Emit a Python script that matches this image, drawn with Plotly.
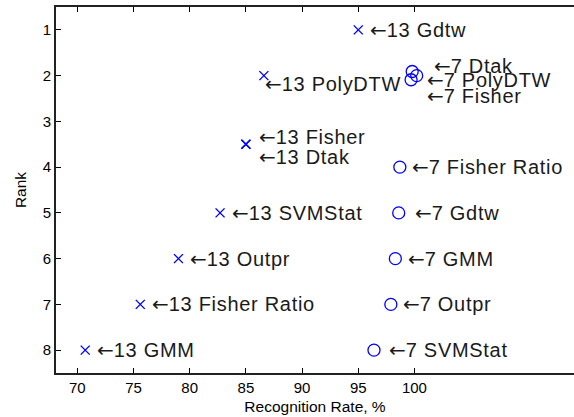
import plotly.graph_objects as go

# Recognition rate (%) and rank for the 13-feature-set methods
m13_names = ["Gdtw", "PolyDTW", "Fisher", "Dtak", "SVMStat", "Outpr", "Fisher Ratio", "GMM"]
m13_rate = [95.0, 86.6, 85.0, 85.0, 82.7, 79.0, 75.6, 70.7]
m13_rank = [1, 2, 3.5, 3.5, 5, 6, 7, 8]

# Recognition rate (%) and rank for the 7-feature-set methods
m7_names = ["Dtak", "PolyDTW", "Fisher", "Fisher Ratio", "Gdtw", "GMM", "Outpr", "SVMStat"]
m7_rate = [99.8, 100.2, 99.7, 98.7, 98.6, 98.3, 97.9, 96.4]
m7_rank = [1.91, 2.0, 2.09, 4, 5, 6, 7, 8]

x_ticks = [70, 75, 80, 85, 90, 95, 100]
y_ticks = [1, 2, 3, 4, 5, 6, 7, 8]

FONT = "Liberation Sans, Arial, Helvetica, sans-serif"
ARROW = '<span style="font-family:DejaVu Sans">←</span>'
BLUE = "#0000ff"

fig = go.Figure()
fig.add_trace(go.Scatter(
    x=m13_rate, y=m13_rank, mode="markers",
    marker=dict(symbol="x-thin-open", size=9, color=BLUE, line=dict(color=BLUE, width=1.4)),
    showlegend=False,
))
fig.add_trace(go.Scatter(
    x=m7_rate, y=m7_rank, mode="markers",
    marker=dict(symbol="circle-open", size=12, color=BLUE, line=dict(color=BLUE, width=1.3)),
    showlegend=False,
))

# pixel offsets of the arrow labels from their markers (crowded ones are nudged)
shift13 = {"PolyDTW": (0, -8), "Fisher": (12, 7), "Dtak": (12, -13)}
shift7 = {"Dtak": (21, 6), "PolyDTW": (9, -4), "Fisher": (15, -16),
          "Gdtw": (15, 0), "SVMStat": (14, 0), "GMM": (12, 0)}

annotations = []
for prefix, names, rates, ranks, shifts in (
    ("13", m13_names, m13_rate, m13_rank, shift13),
    ("7", m7_names, m7_rate, m7_rank, shift7),
):
    for n, xr, yr in zip(names, rates, ranks):
        dx, dy = shifts.get(n, (11, 0))
        label = f'{ARROW}<span style="letter-spacing:0.7px">{prefix} {n}</span>'
        annotations.append(dict(
            x=xr, y=yr, xref="x", yref="y", text=label,
            showarrow=False, xanchor="left", yanchor="middle",
            xshift=dx - 1, yshift=dy,
            font=dict(family=FONT, size=20, color="#1a1a1a"),
        ))

fig.update_layout(
    width=574, height=417,
    margin=dict(l=56, r=0, t=7, b=44),
    paper_bgcolor="white", plot_bgcolor="white",
    font=dict(family=FONT, color="black"),
    annotations=annotations,
    xaxis=dict(
        range=[68.1, 114.2], tickmode="array", tickvals=x_ticks,
        ticks="inside", ticklen=5, tickwidth=1, tickcolor="black",
        showline=True, linecolor="#222", linewidth=2, mirror="ticks",
        showgrid=False, zeroline=False,
        tickfont=dict(size=15),
        title=dict(text="Recognition Rate, %", font=dict(size=15.5), standoff=6),
    ),
    yaxis=dict(
        range=[8.5, 0.5], tickmode="array", tickvals=y_ticks,
        ticks="inside", ticklen=5, tickwidth=1, tickcolor="black",
        showline=True, linecolor="#222", linewidth=2, mirror=False,
        showgrid=False, zeroline=False,
        tickfont=dict(size=15),
        title=dict(text="Rank", font=dict(size=15.5), standoff=12),
    ),
)

fig.write_html("out.html")
